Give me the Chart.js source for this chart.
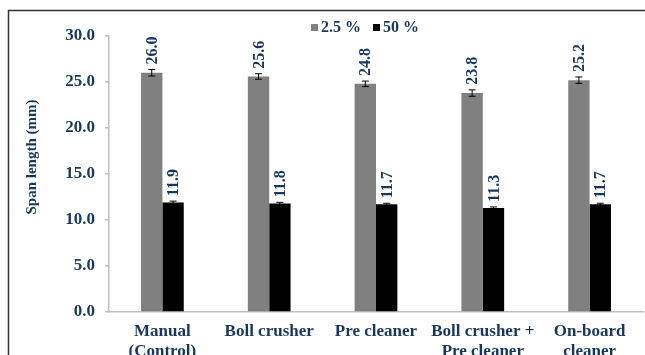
<!DOCTYPE html>
<html>
<head>
<meta charset="utf-8">
<script src="https://cdn.jsdelivr.net/npm/chart.js@4"></script>
<style>
html,body{margin:0;padding:0;background:#fff;}
#wrap{position:relative;width:645px;height:355px;overflow:hidden;}
canvas{display:block;}
</style>
</head>
<body>
<div id="wrap"><canvas id="c" width="645" height="355"></canvas></div>
<script>
const categories = [["Manual", "(Control)"], "Boll crusher", "Pre cleaner", ["Boll crusher +", "Pre cleaner"], ["On-board", "cleaner"]];
const seriesNames = ["2.5 %", "50 %"];
const span25 = [26.0, 25.6, 24.8, 23.8, 25.2];
const span50 = [11.9, 11.8, 11.7, 11.3, 11.7];
const err25 = [0.35, 0.3, 0.3, 0.35, 0.35];
const err50 = [0.15, 0.12, 0.12, 0.12, 0.12];
const yTicks = [0, 5, 10, 15, 20, 25, 30];
const yTitle = "Span length (mm)";

const NAVY = '#17375E';
const FONT = '"Liberation Serif", "Times New Roman", serif';

const errorBarPlugin = {
  id: 'errorBars',
  afterDatasetsDraw(chart) {
    const ctx = chart.ctx;
    const y = chart.scales.y;
    chart.data.datasets.forEach((ds, di) => {
      const meta = chart.getDatasetMeta(di);
      meta.data.forEach((bar, i) => {
        const v = ds.data[i], e = ds.errors[i];
        const yt = y.getPixelForValue(v + e), yb = y.getPixelForValue(v - e);
        const x = bar.x;
        ctx.save();
        ctx.strokeStyle = '#000';
        ctx.lineWidth = 1;
        ctx.beginPath();
        ctx.moveTo(x, yt); ctx.lineTo(x, yb);
        ctx.moveTo(x - 3.5, yt); ctx.lineTo(x + 3.5, yt);
        ctx.moveTo(x - 3.5, yb); ctx.lineTo(x + 3.5, yb);
        ctx.stroke();
        ctx.translate(x, yt - 5);
        ctx.rotate(-Math.PI / 2);
        ctx.fillStyle = NAVY;
        ctx.font = 'bold 16px ' + FONT;
        ctx.textAlign = 'left';
        ctx.textBaseline = 'middle';
        ctx.fillText(v.toFixed(1), 0, 1);
        ctx.restore();
      });
    });
  }
};

const framePlugin = {
  id: 'frame',
  afterDraw(chart) {
    const ctx = chart.ctx;
    ctx.save();
    ctx.strokeStyle = '#333';
    ctx.lineWidth = 1.5;
    ctx.beginPath();
    ctx.moveTo(8.5, 360); ctx.lineTo(8.5, 10.5); ctx.lineTo(650, 10.5);
    ctx.stroke();
    // legend
    ctx.font = 'bold 16px ' + FONT;
    ctx.textBaseline = 'middle';
    ctx.textAlign = 'left';
    let x = 311;
    const yc = 28;
    chart.data.datasets.forEach(ds => {
      ctx.fillStyle = ds.backgroundColor;
      ctx.fillRect(x, yc - 4, 7, 7);
      ctx.fillStyle = NAVY;
      ctx.fillText(ds.label, x + 10, yc);
      x += 10 + ctx.measureText(ds.label).width + 12;
    });
    // y axis title
    ctx.translate(32, 157);
    ctx.rotate(-Math.PI / 2);
    ctx.textAlign = 'center';
    ctx.font = 'bold 15px ' + FONT;
    ctx.fillText(yTitle, 0, 0);
    ctx.restore();
  }
};

new Chart(document.getElementById('c'), {
  type: 'bar',
  data: {
    labels: categories,
    datasets: [
      { label: seriesNames[0], data: span25, errors: err25, backgroundColor: '#808080', borderWidth: 0 },
      { label: seriesNames[1], data: span50, errors: err50, backgroundColor: '#000000', borderWidth: 0 }
    ]
  },
  options: {
    responsive: false,
    animation: false,
    devicePixelRatio: 1,
    layout: { padding: { top: 36, left: 0, right: 2, bottom: 0 } },
    datasets: { bar: { categoryPercentage: 0.4, barPercentage: 1 } },
    plugins: { legend: { display: false }, tooltip: { enabled: false } },
    scales: {
      x: {
        grid: { display: false, drawTicks: false },
        border: { display: true, color: '#bfbfbf', width: 1.5 },
        ticks: { color: NAVY, font: { family: FONT, size: 17, weight: 'bold' }, padding: 9, maxRotation: 0, autoSkip: false },
        afterFit(s) { s.height = 43; }
      },
      y: {
        min: 0, max: 30,
        afterBuildTicks(s) { s.ticks = yTicks.map(v => ({ value: v })); },
        grid: { drawOnChartArea: false, drawTicks: true, tickLength: 4, color: '#bfbfbf', lineWidth: 1.5 },
        border: { display: true, color: '#bfbfbf', width: 1.5 },
        ticks: { color: NAVY, font: { family: FONT, size: 17, weight: 'bold' }, padding: 10, callback: v => Number(v).toFixed(1) },
        afterFit(s) { s.width = 109; }
      }
    }
  },
  plugins: [errorBarPlugin, framePlugin]
});
</script>
</body>
</html>
